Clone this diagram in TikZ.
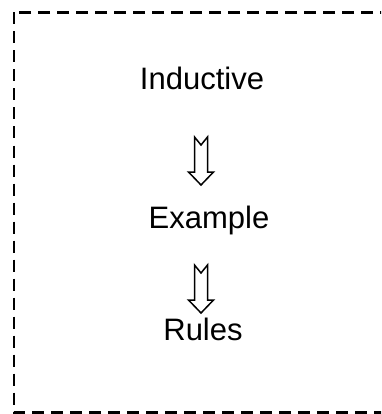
\documentclass[tikz,border=0pt]{standalone}
\usepackage{fontspec}
\setmainfont{Liberation Sans}
\usepackage{xcolor}
\usetikzlibrary{calc}
\definecolor{frameBlack}{HTML}{000000}

\begin{document}
\begin{tikzpicture}[x=1pt,y=-1pt]
    \pgfmathsetmacro{\sh}{6.5}
    \pgfmathsetmacro{\hd}{12.5}
    \tikzset{
        word/.style={anchor=base,inner sep=0pt,font=\fontsize{31}{37}\selectfont},
        blockarrow/.pic={
            \filldraw[white,draw=black,line width=1.5pt,line join=miter] (-\sh,0) --++(\sh,8)--++(\sh,-8)--++(0,35)--++(\hd-\sh,0)--++(-\hd,13)--++(-\hd,-13)--++(\hd-\sh,0)--cycle;
        }
    };
    \useasboundingbox (0,0) rectangle (381,414);
    \clip (0,0) rectangle (381,414);
    \draw[frameBlack,line width=2.3pt,dash pattern=on 12pt off 7pt] (14,12.5) rectangle (430,412.5);
    \node[word] (ind) at (202,90) {Inductive};
    \node[word] (ex) at (209,228) {Example};
    \node[word] (rul) at (203,340) {Rules};
    \coordinate (arr1) at (201,137);
    \coordinate (arr2) at (201,265);
    \foreach \a in {arr1,arr2}{
        \draw(\a) pic {blockarrow};}
\end{tikzpicture}
\end{document}
